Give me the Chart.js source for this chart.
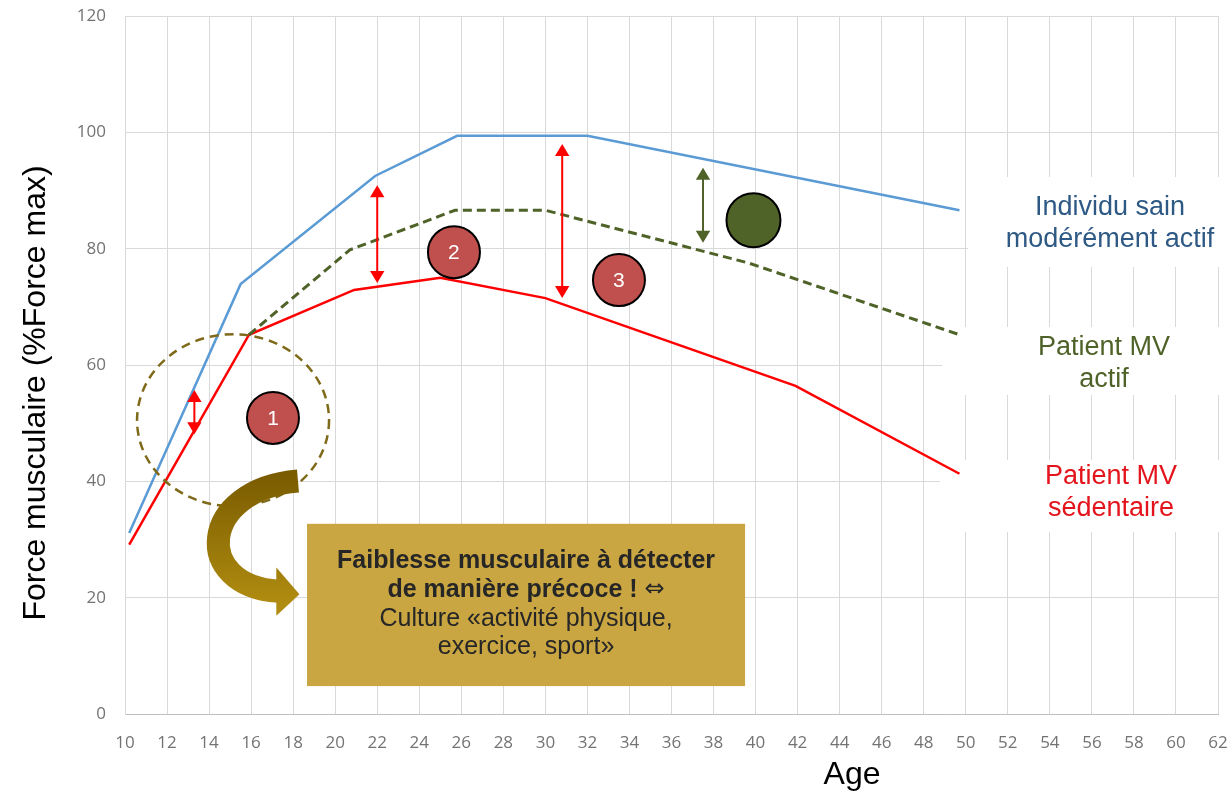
<!DOCTYPE html>
<html>
<head>
<meta charset="utf-8">
<script src="https://cdn.jsdelivr.net/npm/chart.js@4.4.1/dist/chart.umd.min.js"></script>
<style>
  html, body { margin: 0; padding: 0; background: #fff; }
  #wrap { width: 1231px; height: 796px; position: relative; }
</style>
</head>
<body>
<div id="wrap"><canvas id="forceChart"></canvas></div>
<script>
// series (age in years, force in % of max)
const blueAge   = [10.2, 15.5, 21.9, 25.8, 32.0, 49.7];
const blueForce = [31.1, 73.9, 92.5, 99.4, 99.4, 86.6];

const greenAge   = [15.9, 20.7, 25.7, 30.0, 39.7, 49.7];
const greenForce = [65.2, 79.8, 86.6, 86.6, 77.5, 65.2];

const redAge   = [10.2, 15.9, 20.9, 25.0, 30.0, 41.9, 49.7];
const redForce = [29.1, 65.2, 72.9, 75.0, 71.5, 56.4, 41.3];

const seriesNames = ['Individu sain modérément actif', 'Patient MV actif', 'Patient MV sédentaire'];

const xTitle = 'Age';
const yTitle = 'Force musculaire (%Force max)';

const boxLines = ['Faiblesse musculaire à détecter', 'de manière précoce ! ', '⇔', 'Culture «activité physique,', 'exercice, sport»'];

function toPoints(xs, ys){
    return xs.map((x, i) => ({x: x, y: ys[i]}));
}

// little helpers for the drawing plugin
function arrowHead(ctx, x, y, dir, size){
    ctx.beginPath();
    ctx.moveTo(x, y);
    ctx.lineTo(x - size * 0.6, y - dir * size);
    ctx.lineTo(x + size * 0.6, y - dir * size);
    ctx.closePath();
    ctx.fill();
}

function doubleArrow(ctx, x, y1, y2, color){
    ctx.save();
    ctx.strokeStyle = color;
    ctx.fillStyle = color;
    ctx.lineWidth = 2;
    ctx.beginPath();
    ctx.moveTo(x, y1 + 10);
    ctx.lineTo(x, y2 - 10);
    ctx.stroke();
    arrowHead(ctx, x, y1, -1, 12);
    arrowHead(ctx, x, y2, 1, 12);
    ctx.restore();
}

function badge(ctx, x, y, r, fill, label){
    ctx.save();
    ctx.beginPath();
    ctx.arc(x, y, r, 0, Math.PI * 2);
    ctx.fillStyle = fill;
    ctx.fill();
    ctx.lineWidth = 2;
    ctx.strokeStyle = '#000';
    ctx.stroke();
    if(label){
        ctx.fillStyle = '#fff';
        ctx.font = '21px "Liberation Sans", Arial, sans-serif';
        ctx.textAlign = 'center';
        ctx.textBaseline = 'middle';
        ctx.fillText(label, x, y + 1);
    }
    ctx.restore();
}

// drop the extra room Chart.js keeps for tick labels, so the plot box is exact
function noPadding(s){
    s.paddingTop = 0;
    s.paddingBottom = 0;
    s.paddingLeft = 0;
    s.paddingRight = 0;
}

const decorations = {
    id: 'decorations',
    beforeDatasetsDraw(chart){
        const ctx = chart.ctx;
        // white boxes behind the right-hand labels hide the grid
        ctx.save();
        ctx.fillStyle = '#fff';
        ctx.fillRect(968, 177, 263, 90);
        ctx.fillRect(942, 327, 289, 68);
        ctx.fillRect(940, 460, 291, 72);
        ctx.restore();
    },
    afterDatasetsDraw(chart){
        const ctx = chart.ctx;
        const xs = chart.scales.x, ys = chart.scales.y;
        const px = v => xs.getPixelForValue(v);
        const py = v => ys.getPixelForValue(v);

        // dashed ellipse round the early years
        ctx.save();
        ctx.beginPath();
        ctx.ellipse(px(15.14), py(50.5), 96, 86, 0, 0, Math.PI * 2);
        ctx.setLineDash([9, 6]);
        ctx.lineWidth = 2.5;
        ctx.strokeStyle = '#7f6a1a';
        ctx.stroke();
        ctx.restore();

        // curved arrow pointing to the text box
        ctx.save();
        const grad = ctx.createLinearGradient(0, py(41), 0, py(19));
        grad.addColorStop(0, '#7a5c00');
        grad.addColorStop(1, '#b08c10');
        ctx.strokeStyle = grad;
        ctx.fillStyle = grad;
        ctx.lineWidth = 23;
        ctx.lineCap = 'butt';
        ctx.beginPath();
        ctx.moveTo(px(18.23), py(40.06));
        ctx.bezierCurveTo(px(13.5), py(38.6), px(13.2), py(22.0), px(17.3), py(21.1));
        ctx.stroke();
        ctx.beginPath();
        ctx.moveTo(px(18.3), py(20.6));
        ctx.lineTo(px(17.2), py(25.2));
        ctx.lineTo(px(17.2), py(16.9));
        ctx.closePath();
        ctx.fill();
        ctx.restore();

        // gold text box
        ctx.save();
        const bx = px(18.66), bw = px(39.5) - bx;
        const by = py(32.7), bh = py(4.8) - by;
        ctx.fillStyle = '#c9a642';
        ctx.fillRect(bx, by, bw, bh);
        ctx.fillStyle = '#262626';
        ctx.textBaseline = 'middle';
        const cx = bx + bw / 2;
        const boldFont = 'bold 25px "Liberation Sans", Arial, sans-serif';
        const symFont = '24px "DejaVu Sans", sans-serif';
        ctx.font = boldFont;
        ctx.textAlign = 'center';
        ctx.fillText(boxLines[0], cx, by + 37);
        // second line: bold words then the double arrow symbol
        ctx.textAlign = 'left';
        const w1 = ctx.measureText(boxLines[1]).width;
        ctx.font = symFont;
        const w2 = ctx.measureText(boxLines[2]).width;
        const start = cx - (w1 + w2) / 2;
        ctx.font = boldFont;
        ctx.fillText(boxLines[1], start, by + 66);
        ctx.font = symFont;
        ctx.fillText(boxLines[2], start + w1, by + 66);
        ctx.textAlign = 'center';
        ctx.font = '25px "Liberation Sans", Arial, sans-serif';
        ctx.fillText(boxLines[3], cx, by + 95);
        ctx.fillText(boxLines[4], cx, by + 123);
        ctx.restore();

        // double arrows showing the gaps
        doubleArrow(ctx, px(13.3), py(55.7), py(48.1), '#ff0000');
        doubleArrow(ctx, px(22.0), py(90.9), py(74.1), '#ff0000');
        doubleArrow(ctx, px(30.8), py(98.0), py(71.5), '#ff0000');
        doubleArrow(ctx, px(37.5), py(93.9), py(81.0), '#4f6228');

        // numbered badges
        badge(ctx, px(17.04), py(50.9), 26, '#c0504d', '1');
        badge(ctx, px(25.65), py(79.4), 26, '#c0504d', '2');
        badge(ctx, px(33.5), py(74.6), 26, '#c0504d', '3');
        badge(ctx, px(39.9), py(84.9), 27, '#4f6228', '');

        // series labels on the right
        ctx.save();
        ctx.textAlign = 'center';
        ctx.textBaseline = 'middle';
        ctx.font = '27px "Liberation Sans", Arial, sans-serif';
        ctx.fillStyle = '#2e5984';
        ctx.fillText('Individu sain', 1110, 208);
        ctx.fillText('modérément actif', 1110, 240);
        ctx.fillStyle = '#4f6228';
        ctx.fillText('Patient MV', 1104, 348);
        ctx.fillText('actif', 1104, 380);
        ctx.fillStyle = '#e3141b';
        ctx.fillText('Patient MV', 1111, 477);
        ctx.fillText('sédentaire', 1111, 509);
        ctx.restore();

        // axis titles
        ctx.save();
        ctx.fillStyle = '#000';
        ctx.font = '32px "Liberation Sans", Arial, sans-serif';
        ctx.textAlign = 'center';
        ctx.textBaseline = 'middle';
        ctx.fillText(xTitle, 852, 775);
        ctx.translate(36, 393);
        ctx.rotate(-Math.PI / 2);
        ctx.fillText(yTitle, 0, 0);
        ctx.restore();
    }
};

const data = {
    datasets: [
        {
            label: seriesNames[0],
            data: toPoints(blueAge, blueForce),
            borderColor: '#5b9bd5',
            borderWidth: 2.5,
            pointRadius: 0,
            tension: 0
        },
        {
            label: seriesNames[1],
            data: toPoints(greenAge, greenForce),
            borderColor: '#4f6228',
            borderWidth: 3,
            borderDash: [9, 5],
            pointRadius: 0,
            tension: 0
        },
        {
            label: seriesNames[2],
            data: toPoints(redAge, redForce),
            borderColor: '#ff0000',
            borderWidth: 2.5,
            pointRadius: 0,
            tension: 0
        }
    ]
};

const tickFont = { family: '"Open Sans", "Liberation Sans", sans-serif', size: 17 };

const config = {
    type: 'line',
    data: data,
    options: {
        responsive: true,
        maintainAspectRatio: false,
        animation: false,
        layout: { padding: { top: 16, right: 13, left: 0, bottom: 0 } },
        plugins: {
            legend: { display: false },
            tooltip: { enabled: false }
        },
        scales: {
            x: {
                type: 'linear',
                min: 10,
                max: 62,
                afterFit: s => { s.height = 82; noPadding(s); },
                ticks: { stepSize: 2, color: '#737373', font: tickFont, padding: 19, maxRotation: 0 },
                grid: { color: '#d9d9d9', drawTicks: false },
                border: { color: '#bfbfbf' }
            },
            y: {
                min: 0,
                max: 120,
                afterFit: s => { s.width = 125; noPadding(s); },
                ticks: { stepSize: 20, color: '#737373', font: tickFont, padding: 19 },
                grid: { color: '#d9d9d9', drawTicks: false },
                border: { color: '#d9d9d9' }
            }
        }
    },
    plugins: [decorations]
};

new Chart(document.getElementById('forceChart').getContext('2d'), config);
</script>
</body>
</html>
